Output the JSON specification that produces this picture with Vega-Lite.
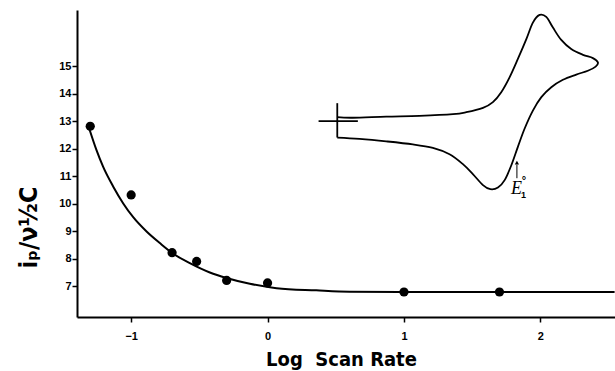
{
  "$schema": "https://vega.github.io/schema/vega-lite/v6.json",
  "width": 538,
  "height": 307,
  "autosize": {"type": "none"},
  "padding": {"left": 77, "top": 10, "right": 0, "bottom": 54},
  "background": "white",
  "config": {"view": {"stroke": null}, "axis": {"grid": false}},
  "datasets": {
    "points": [
      {"x": -1.3, "y": 12.82}, {"x": -1.0, "y": 10.32}, {"x": -0.7, "y": 8.22}, {"x": -0.52, "y": 7.9},
      {"x": -0.3, "y": 7.21}, {"x": 0.0, "y": 7.12}, {"x": 1.0, "y": 6.79}, {"x": 1.7, "y": 6.79}
    ],
    "curve": [
      {"x": -1.307, "y": 12.73}, {"x": -1.254, "y": 11.95}, {"x": -1.205, "y": 11.34}, {"x": -1.131, "y": 10.62},
      {"x": -1.058, "y": 10.01}, {"x": -0.985, "y": 9.51}, {"x": -0.887, "y": 8.99}, {"x": -0.79, "y": 8.57},
      {"x": -0.691, "y": 8.18}, {"x": -0.57, "y": 7.84}, {"x": -0.423, "y": 7.5}, {"x": -0.301, "y": 7.3},
      {"x": -0.13, "y": 7.09}, {"x": 0.066, "y": 6.93}, {"x": 0.357, "y": 6.85}, {"x": 0.601, "y": 6.8},
      {"x": 0.968, "y": 6.79}, {"x": 2.544, "y": 6.79}
    ],
    "cv": [
      {"i": 1, "x": 0.511, "y": 13.15}, {"i": 2, "x": 0.625, "y": 13.13}, {"i": 3, "x": 0.87, "y": 13.17},
      {"i": 4, "x": 1.114, "y": 13.2}, {"i": 5, "x": 1.359, "y": 13.26}, {"i": 6, "x": 1.457, "y": 13.33},
      {"i": 7, "x": 1.579, "y": 13.49}, {"i": 8, "x": 1.652, "y": 13.7}, {"i": 9, "x": 1.713, "y": 14.06},
      {"i": 10, "x": 1.774, "y": 14.6}, {"i": 11, "x": 1.835, "y": 15.27}, {"i": 12, "x": 1.897, "y": 15.99},
      {"i": 13, "x": 1.945, "y": 16.59}, {"i": 14, "x": 1.994, "y": 16.87}, {"i": 15, "x": 2.043, "y": 16.8},
      {"i": 16, "x": 2.092, "y": 16.41}, {"i": 17, "x": 2.153, "y": 15.96}, {"i": 18, "x": 2.226, "y": 15.63},
      {"i": 19, "x": 2.312, "y": 15.42}, {"i": 20, "x": 2.385, "y": 15.3}, {"i": 21, "x": 2.422, "y": 15.14},
      {"i": 22, "x": 2.405, "y": 14.99}, {"i": 23, "x": 2.348, "y": 14.84}, {"i": 24, "x": 2.263, "y": 14.7},
      {"i": 25, "x": 2.165, "y": 14.51}, {"i": 26, "x": 2.08, "y": 14.24}, {"i": 27, "x": 2.007, "y": 13.88},
      {"i": 28, "x": 1.945, "y": 13.39}, {"i": 29, "x": 1.884, "y": 12.73}, {"i": 30, "x": 1.835, "y": 12.07},
      {"i": 31, "x": 1.787, "y": 11.4}, {"i": 32, "x": 1.738, "y": 10.86}, {"i": 33, "x": 1.689, "y": 10.59},
      {"i": 34, "x": 1.633, "y": 10.53}, {"i": 35, "x": 1.579, "y": 10.68}, {"i": 36, "x": 1.505, "y": 11.08},
      {"i": 37, "x": 1.432, "y": 11.44}, {"i": 38, "x": 1.334, "y": 11.8}, {"i": 39, "x": 1.212, "y": 12.03},
      {"i": 40, "x": 1.065, "y": 12.16}, {"i": 41, "x": 0.87, "y": 12.27}, {"i": 42, "x": 0.674, "y": 12.36},
      {"i": 43, "x": 0.511, "y": 12.41}
    ],
    "marker": [
      {"seg": "v", "i": 1, "x": 0.511, "y": 13.66}, {"seg": "v", "i": 2, "x": 0.511, "y": 12.41},
      {"seg": "h", "i": 1, "x": 0.374, "y": 13.01}, {"seg": "h", "i": 2, "x": 0.662, "y": 13.01}
    ],
    "arrow": [{"x": 1.828, "y": 10.93, "y2": 11.42}],
    "arrowhead": [{"x": 1.828, "y": 11.5}],
    "labE": [{"x": 1.824, "y": 10.37, "t": "E"}],
    "labSub": [{"x": 1.877, "y": 10.2, "t": "1"}],
    "labSup": [{"x": 1.879, "y": 10.84, "t": "°"}]
  },
  "encoding": {
    "x": {
      "field": "x", "type": "quantitative",
      "scale": {"domain": [-1.397, 2.547], "nice": false, "zero": false},
      "axis": {
        "values": [-1, 0, 1, 2], "format": "d",
        "domainColor": "black", "domainWidth": 2, "tickColor": "black", "tickWidth": 1.5, "tickSize": 5,
        "labelFont": "Liberation Sans", "labelFontWeight": "bold", "labelFontSize": 11, "labelColor": "black",
        "labelPadding": 8,
        "title": "Log\u00a0\u00a0Scan Rate", "titleFont": "DejaVu Sans Condensed, DejaVu Sans, sans-serif", "titleFontSize": 20,
        "titleFontWeight": "bold", "titleColor": "black", "titleX": 264, "titleY": 48,
        "titleBaseline": "alphabetic", "titleAlign": "center"
      }
    },
    "y": {
      "field": "y", "type": "quantitative",
      "scale": {"domain": [5.88, 17.05], "nice": false, "zero": false},
      "axis": {
        "values": [7, 8, 9, 10, 11, 12, 13, 14, 15],
        "domainColor": "black", "domainWidth": 2, "tickColor": "black", "tickWidth": 1.5, "tickSize": 5,
        "labelFont": "Liberation Sans", "labelFontWeight": "bold", "labelFontSize": 11, "labelColor": "black",
        "labelPadding": 1,
        "title": "iₚ/ν½C", "titleFont": "DejaVu Sans Condensed, DejaVu Sans, sans-serif", "titleFontSize": 25,
        "titleFontWeight": "bold", "titleColor": "black", "titleX": -49, "titleY": 217,
        "titleAngle": -90, "titleAlign": "center", "titleBaseline": "middle"
      }
    }
  },
  "layer": [
    {"data": {"name": "curve"}, "mark": {"type": "line", "color": "black", "strokeWidth": 2, "interpolate": "monotone"}},
    {"data": {"name": "points"}, "mark": {"type": "circle", "color": "black", "size": 85, "opacity": 1}},
    {"data": {"name": "cv"}, "mark": {"type": "line", "color": "black", "strokeWidth": 1.8, "interpolate": "cardinal"},
      "encoding": {"order": {"field": "i", "type": "quantitative"}}},
    {"data": {"name": "marker"}, "mark": {"type": "line", "color": "black", "strokeWidth": 1.8},
      "encoding": {"detail": {"field": "seg"}, "order": {"field": "i", "type": "quantitative"}}},
    {"data": {"name": "arrow"}, "mark": {"type": "rule", "color": "black", "strokeWidth": 1},
      "encoding": {"y2": {"field": "y2"}}},
    {"data": {"name": "arrowhead"}, "mark": {"type": "point", "shape": "triangle-up", "filled": true, "color": "black", "size": 18, "opacity": 1}},
    {"data": {"name": "labE"}, "mark": {"type": "text", "font": "Liberation Serif", "fontStyle": "italic", "fontSize": 18, "align": "center", "baseline": "alphabetic", "color": "black"},
      "encoding": {"text": {"field": "t"}}},
    {"data": {"name": "labSub"}, "mark": {"type": "text", "font": "Liberation Sans", "fontWeight": "bold", "fontSize": 9, "align": "center", "baseline": "alphabetic", "color": "black"},
      "encoding": {"text": {"field": "t"}}},
    {"data": {"name": "labSup"}, "mark": {"type": "text", "font": "Liberation Sans", "fontWeight": "bold", "fontSize": 11, "align": "center", "baseline": "middle", "color": "black"},
      "encoding": {"text": {"field": "t"}}}
  ]
}
